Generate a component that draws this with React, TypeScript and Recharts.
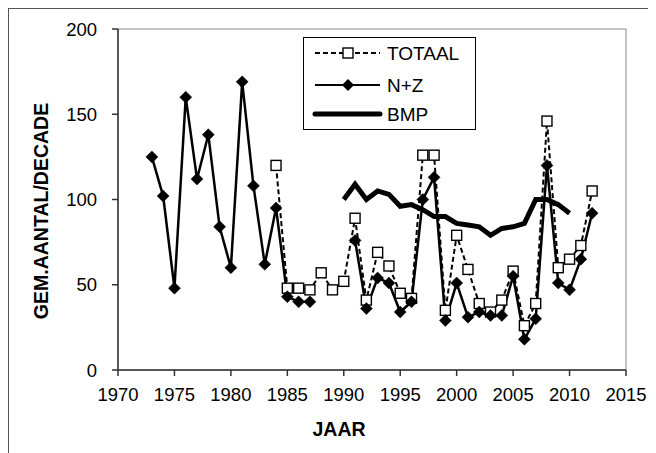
import { LineChart, Line, XAxis, YAxis, ReferenceArea } from "recharts";

const FONT = "'Liberation Sans', Arial, sans-serif";

const years = [
  1973, 1974, 1975, 1976, 1977, 1978, 1979, 1980, 1981, 1982, 1983, 1984, 1985, 1986, 1987, 1988, 1989, 1990, 1991, 1992,
  1993, 1994, 1995, 1996, 1997, 1998, 1999, 2000, 2001, 2002, 2003, 2004, 2005, 2006, 2007, 2008, 2009, 2010, 2011, 2012,
];

const totaal = [
  null, null, null, null, null, null, null, null, null, null, null,
  120, 48, 48, 47, 57, 47, 52, 89, 41, 69, 61, 45, 42, 126, 126, 35, 79, 59, 39, 34, 41, 58, 26, 39, 146, 60, 65, 73, 105,
];

const nz = [
  125, 102, 48, 160, 112, 138, 84, 60, 169, 108, 62, 95, 43, 40, 40, null, null, null,
  76, 36, 54, 51, 34, 40, 100, 113, 29, 51, 31, 34, 32, 32, 55, 18, 30, 120, 51, 47, 65, 92,
];

const bmp = [
  null, null, null, null, null, null, null, null, null, null, null, null, null, null, null, null, null,
  100, 109, 100, 105, 103, 96, 97, 94, 90, 90, 86, 85, 84, 79, 83, 84, 86, 100, 100, 97, 92, null, null,
];

const xTicks = [1970, 1975, 1980, 1985, 1990, 1995, 2000, 2005, 2010, 2015];
const yTicks = [0, 50, 100, 150, 200];

const data = years.map((year, i) => ({
  year,
  TOTAAL: totaal[i],
  NZ: nz[i],
  BMP: bmp[i],
}));

const SquareDot = (props: any) => {
  const { cx, cy, index } = props;
  if (cx == null || cy == null) return <g key={`s${index}`} />;
  return <rect key={`s${index}`} x={cx - 5} y={cy - 5} width={10} height={10} fill="#fff" stroke="#000" strokeWidth={1.4} />;
};

const DiamondDot = (props: any) => {
  const { cx, cy, index } = props;
  if (cx == null || cy == null) return <g key={`d${index}`} />;
  return (
    <polygon
      key={`d${index}`}
      points={`${cx},${cy - 6} ${cx + 6},${cy} ${cx},${cy + 6} ${cx - 6},${cy}`}
      fill="#000"
      stroke="#000"
      strokeWidth={0.5}
    />
  );
};

// legend box sits on top of the plot, like the Excel original
const ChartLegend = () => (
  <svg width={173} height={93} style={{ position: "absolute", left: 295, top: 29, display: "block" }}>
    <rect x={0.5} y={0.5} width={172} height={92} fill="#fff" stroke="#000" strokeWidth={1} />
    <line x1={12} y1={16} x2={77} y2={16} stroke="#000" strokeWidth={2} strokeDasharray="5 3" />
    <rect x={40} y={11} width={10} height={10} fill="#fff" stroke="#000" strokeWidth={1.4} />
    <line x1={12} y1={48} x2={77} y2={48} stroke="#000" strokeWidth={2} />
    <polygon points="45,42 51,48 45,54 39,48" fill="#000" />
    <line x1={12} y1={77} x2={77} y2={77} stroke="#000" strokeWidth={5} strokeLinecap="round" />
    <text x={84} y={23} fontSize={19} fontFamily={FONT} fill="#000">TOTAAL</text>
    <text x={84} y={55} fontSize={19} fontFamily={FONT} fill="#000">N+Z</text>
    <text x={84} y={84} fontSize={19} fontFamily={FONT} fill="#000">BMP</text>
  </svg>
);

export default function App() {
  return (
    <div style={{ position: "relative", width: 648, height: 445 }}>
      <LineChart width={648} height={445} data={data} margin={{ top: 21, right: 30, bottom: 0, left: 0 }}>
        <ReferenceArea x1={1970} x2={2015} y1={0} y2={200} fill="none" stroke="#888" strokeWidth={1} />
        <XAxis
          dataKey="year"
          type="number"
          domain={[1970, 2015]}
          ticks={xTicks}
          height={83}
          stroke="#333"
          strokeWidth={1.5}
          tickSize={6}
          tickMargin={12}
          tick={{ fill: "#000", fontSize: 18.5, fontFamily: FONT }}
          label={{
            content: (p: any) => {
              const vb = p.viewBox;
              return (
                <text
                  x={vb.x + vb.width / 2 - 33}
                  y={vb.y + 66}
                  textAnchor="middle"
                  fontSize={19.5}
                  fontWeight="bold"
                  fontFamily={FONT}
                  fill="#000"
                >
                  JAAR
                </text>
              );
            },
          }}
        />
        <YAxis
          type="number"
          domain={[0, 200]}
          ticks={yTicks}
          width={110}
          stroke="#333"
          strokeWidth={1.5}
          tickSize={6}
          tickMargin={15}
          tick={{ fill: "#000", fontSize: 18.5, fontFamily: FONT }}
          label={{
            content: () => (
              <text
                x={40}
                y={203}
                transform="rotate(-90, 40, 203)"
                textAnchor="middle"
                fontSize={19.5}
                fontWeight="bold"
                fontFamily={FONT}
                fill="#000"
              >
                GEM.AANTAL/DECADE
              </text>
            ),
          }}
        />
        <Line
          dataKey="TOTAAL"
          stroke="#000"
          strokeWidth={2}
          strokeDasharray="5 3"
          dot={SquareDot}
          activeDot={false}
          isAnimationActive={false}
        />
        <Line
          dataKey="NZ"
          name="N+Z"
          stroke="#000"
          strokeWidth={2.5}
          dot={DiamondDot}
          activeDot={false}
          isAnimationActive={false}
        />
        <Line
          dataKey="BMP"
          stroke="#000"
          strokeWidth={5}
          dot={false}
          activeDot={false}
          isAnimationActive={false}
        />
      </LineChart>
      <ChartLegend />
      <div
        style={{
          position: "absolute",
          left: 0,
          top: 0,
          width: 648,
          height: 445,
          borderLeft: "1px solid #555",
          borderTop: "1px solid #555",
          boxSizing: "border-box",
          pointerEvents: "none",
        }}
      />
    </div>
  );
}
